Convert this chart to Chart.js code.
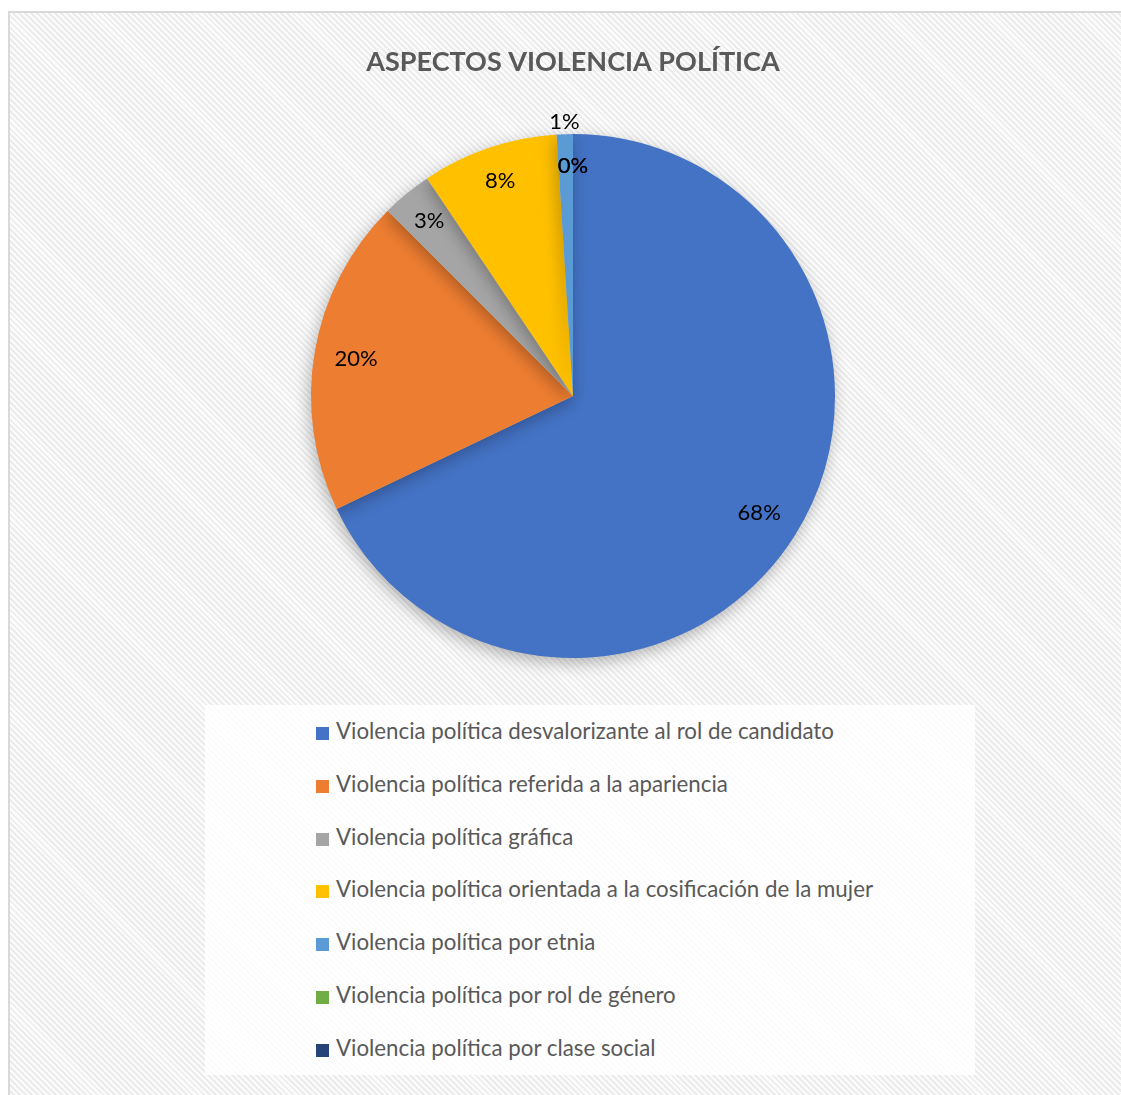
<!DOCTYPE html>
<html>
<head>
<meta charset="utf-8">
<script src="https://cdn.jsdelivr.net/npm/chart.js@4.4.1/dist/chart.umd.min.js"></script>
<style>
  html, body { margin: 0; padding: 0; background: #fff; width: 1121px; height: 1095px; overflow: hidden; }
  #frame {
    position: absolute; left: 8px; top: 11px; width: 1130px; height: 1100px;
    border-left: 2px solid #d9d9d9; border-top: 2px solid #d9d9d9;
    background: repeating-linear-gradient(45deg, #fbfbfb 0px, #fbfbfb 2.2px, #ececec 2.2px, #ececec 4.2px);
  }
  #chartBox { position: absolute; left: 0; top: 0; width: 1121px; height: 700px; }
  #legend {
    position: absolute; left: 205px; top: 705px; width: 770px; height: 370px;
    background: rgba(255,255,255,.82);
    font-family: Lato, "Open Sans", sans-serif; font-size: 22.3px; color: #595959;
  }
  #legend .item { position: absolute; left: 111px; height: 24px; line-height: 24px; white-space: nowrap; }
  #legend .sw { display: inline-block; width: 13px; height: 13px; margin-right: 7px; vertical-align: -1px; }
</style>
</head>
<body>
<div id="frame"></div>
<div id="chartBox"><canvas id="pie"></canvas></div>
<div id="legend"></div>
<script>
const categories = [
  'Violencia política desvalorizante al rol de candidato',
  'Violencia política referida a la apariencia',
  'Violencia política gráfica',
  'Violencia política orientada a la cosificación de la mujer',
  'Violencia política por etnia',
  'Violencia política por rol de género',
  'Violencia política por clase social'
];
const shares = [67.9, 19.6, 3.1, 8.4, 1.0, 0, 0];
const colors = ['#4472C4', '#ED7D31', '#A5A5A5', '#FFC000', '#5B9BD5', '#70AD47', '#264478'];

// sombra suave bajo el pastel
const pieShadow = {
  id: 'pieShadow',
  beforeDatasetsDraw(chart) {
    const c = chart.ctx;
    c.save();
    c.shadowColor = 'rgba(0,0,0,0.28)';
    c.shadowBlur = 16;
    c.shadowOffsetX = -2;
    c.shadowOffsetY = 5;
  },
  afterDatasetsDraw(chart) { chart.ctx.restore(); }
};

// etiquetas de porcentaje
const pctLabels = {
  id: 'pctLabels',
  afterDraw(chart) {
    const c = chart.ctx;
    const data = chart.data.datasets[0].data;
    const total = data.reduce((a, b) => a + b, 0) || 1;
    c.save();
    c.font = '22px Lato, "Open Sans", sans-serif';
    c.fillStyle = '#000';
    c.textAlign = 'center';
    c.textBaseline = 'middle';
    chart.getDatasetMeta(0).data.forEach((arc, i) => {
      const { x, y, startAngle, endAngle, outerRadius } = arc.getProps(['x', 'y', 'startAngle', 'endAngle', 'outerRadius'], true);
      const mid = (startAngle + endAngle) / 2;
      const span = endAngle - startAngle;
      const pct = Math.round(data[i] / total * 100);
      // sectores finos con valor: etiqueta fuera
      let r = outerRadius * 0.84;
      if (span > 0 && span < 0.1) r = outerRadius * 1.045;
      else if (data[i] === 0) r = outerRadius * 0.88;
      else if (span < 0.6) r = outerRadius * 0.865;
      c.fillText(pct + '%', x + Math.cos(mid) * r, y + Math.sin(mid) * r);
    });
    c.restore();
  }
};

const chart = new Chart(document.getElementById('pie'), {
  type: 'pie',
  data: {
    labels: categories,
    datasets: [{ data: shares, backgroundColor: colors, borderWidth: 0, hoverOffset: 0 }]
  },
  options: {
    responsive: true,
    maintainAspectRatio: false,
    animation: false,
    layout: { padding: { left: 25, right: 0, top: 0, bottom: 42 } },
    plugins: {
      legend: { display: false },
      tooltip: { enabled: false },
      title: {
        display: true,
        text: 'ASPECTOS VIOLENCIA POLÍTICA',
        color: '#595959',
        font: { family: 'Lato, "Open Sans", sans-serif', size: 27, weight: 'bold', lineHeight: 1.2 },
        padding: { top: 46, bottom: 55.6 }
      }
    }
  },
  plugins: [pieShadow, pctLabels]
});

// leyenda generada desde los datos del gráfico
const legendEl = document.getElementById('legend');
chart.data.labels.forEach((lab, i) => {
  const div = document.createElement('div');
  div.className = 'item';
  div.style.top = (14 + i * 52.8) + 'px';
  div.innerHTML = '<span class="sw" style="background:' + chart.data.datasets[0].backgroundColor[i] + '"></span>' + lab;
  legendEl.appendChild(div);
});
</script>
</body>
</html>
